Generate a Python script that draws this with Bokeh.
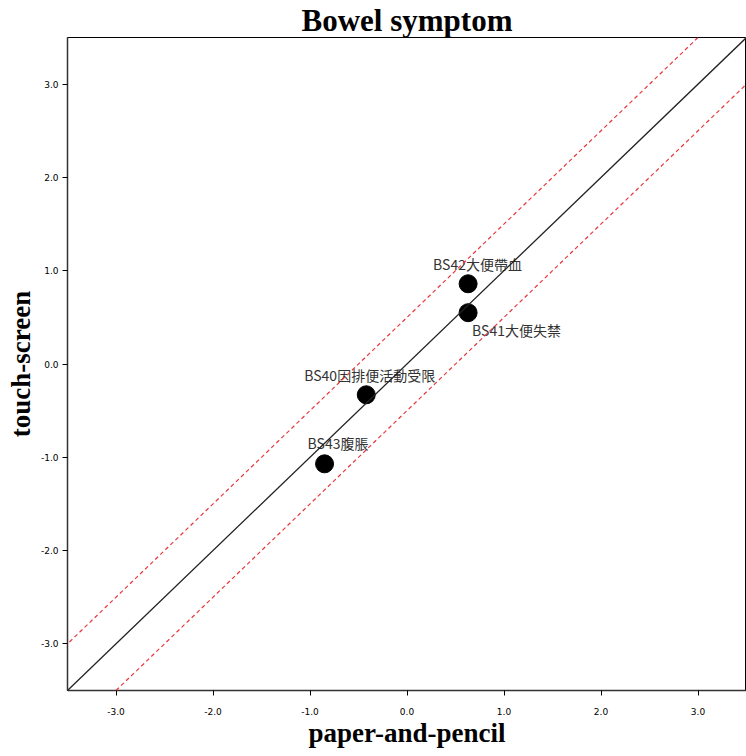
from bokeh.plotting import figure
from bokeh.models import ColumnDataSource, Slope, FixedTicker, NumeralTickFormatter, Range1d
from bokeh.core.properties import value
from bokeh.embed import file_html
from bokeh.resources import INLINE

# Data
labels = ["BS42大便帶血", "BS41大便失禁", "BS40因排便活動受限", "BS43腹脹"]
paper = [0.63, 0.63, -0.42, -0.85]
touch = [0.86, 0.55, -0.33, -1.07]
ticks = [-3, -2, -1, 0, 1, 2, 3]
band = 0.5

# label layout (screen px offsets)
lab_dx = [-35, 4, -62, -17]
lab_dy = [-20, 17, -20, -21]

src = ColumnDataSource(dict(x=paper, y=touch, t=labels, dx=lab_dx, dy=lab_dy))

p = figure(width=746, height=756, output_backend="svg", toolbar_location=None,
           x_range=Range1d(-3.5, 3.5), y_range=Range1d(-3.5, 3.5),
           min_border_left=67, min_border_right=0, min_border_top=0, min_border_bottom=66)

p.title.text = "Bowel symptom"
p.title.align = "center"
p.title.text_font = "Liberation Serif"
p.title.text_font_size = "31px"
p.title.text_font_style = "bold"
p.title.text_color = "black"
p.title.offset = 0
p.title.standoff = 0

p.xgrid.visible = False
p.ygrid.visible = False
p.outline_line_color = "black"
p.outline_line_width = 1
p.background_fill_color = "white"
p.border_fill_color = "white"

for ax in (p.xaxis[0], p.yaxis[0]):
    ax.ticker = FixedTicker(ticks=ticks)
    ax.formatter = NumeralTickFormatter(format="0.0")
    ax.major_label_text_font = "DejaVu Sans"
    ax.major_label_text_font_size = "9px"
    ax.major_label_text_color = "black"
    ax.minor_tick_line_color = None
    ax.major_tick_out = 5
    ax.major_tick_in = 0
    ax.axis_line_color = "#333333"
    ax.axis_line_width = 1.5
    ax.axis_label_text_font = "Liberation Serif"
    ax.axis_label_text_font_size = "27px"
    ax.axis_label_text_font_style = "bold"
    ax.axis_label_text_color = "black"

p.xaxis.axis_label = "paper-and-pencil"
p.yaxis.axis_label = "touch-screen"
p.xaxis.major_label_standoff = 12
p.yaxis.major_label_standoff = 4
p.xaxis.axis_label_standoff = 0
p.yaxis.axis_label_standoff = 2

p.add_layout(Slope(gradient=1, y_intercept=0, line_color="#222222", line_width=1.3))
p.add_layout(Slope(gradient=1, y_intercept=band, line_color="#e8383d", line_width=1.2, line_dash="4 3"))
p.add_layout(Slope(gradient=1, y_intercept=-band, line_color="#e8383d", line_width=1.2, line_dash="4 3"))

p.scatter("x", "y", source=src, size=18, fill_color="black", line_color="black")
p.text("x", "y", text="t", source=src, x_offset="dx", y_offset="dy",
       text_font=value("Noto Sans CJK TC"), text_font_size="14px",
       text_color="#333333", text_baseline="middle", text_align="left")

open("out.html", "w").write(file_html(p, INLINE))
